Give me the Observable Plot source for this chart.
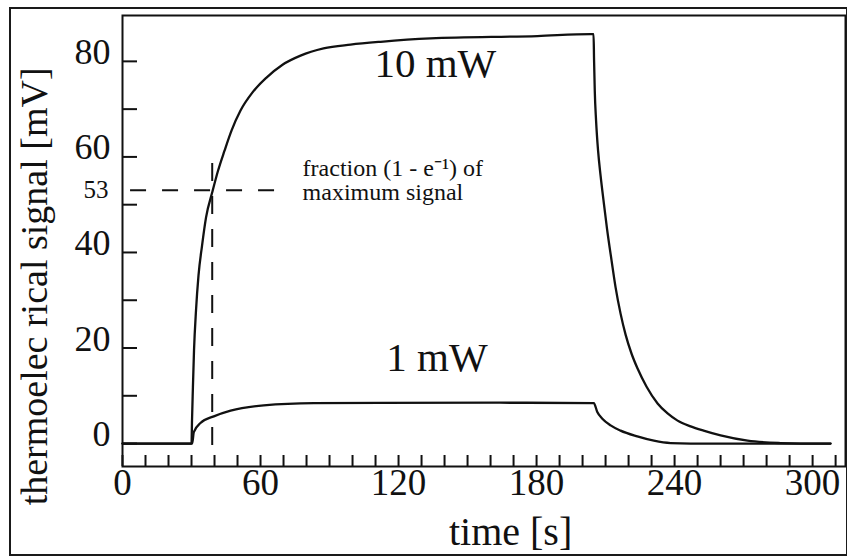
<!DOCTYPE html>
<html><head><meta charset="utf-8">
<script src="https://cdn.jsdelivr.net/npm/d3@7"></script>
<script src="https://cdn.jsdelivr.net/npm/@observablehq/plot@0.6"></script>
<style>
body{margin:0;background:#fff;}
#wrap{position:relative;width:847px;height:556px;overflow:hidden;background:#fff;}
#chart{position:absolute;left:0;top:0;}
#border{position:absolute;left:9px;top:7px;width:835px;height:545px;border:2px solid #1a1a1a;pointer-events:none;}
</style></head><body>
<div id="wrap"><div id="chart"></div><div id="border"></div></div>
<script>
// 10 mW series (time [s], signal [mV])
const time10   = [0, 30.0, 30.22, 30.57, 31.09, 31.96, 33.04, 34.57, 36.30, 39.13, 41.52, 44.35, 47.39, 51.30, 56.52, 62.61, 69.57, 77.39, 87.39, 99.13, 112.2, 133.9, 180.4, 203.5, 204.78,
                  205.0, 205.3, 205.87, 206.74, 207.83, 209.13, 210.65, 212.61, 214.35, 216.52, 218.70, 221.30, 223.91, 227.83, 232.61, 236.96, 241.30, 246.96, 252.61, 260.0, 271.74, 286.09, 294.78, 307.8];
const signal10 = [0, 0,    4.83,  11.1,  19.5,  27.9,  35.2,  41.4,  47.3,  52.8,  57.1,  61.3,  65.5,  69.7,  73.5,  76.6,  79.3,  81.2,  82.7,  83.5,  84.1,  84.8,  85.3,  85.7,  85.7,
                  80.2,  73.9,  67.6,   61.3,   56.1,   50.8,   44.9,   38.3,   32.7,   27.2,   22.8,   18.8,   15.7,   11.9,   8.4,    6.3,    4.8,    3.6,    2.7,    1.7,   0.6,    0.1,    0,      0];
// 1 mW series
const time1    = [0, 30.3, 31.0, 33.9, 39.7, 47.0, 61.4, 83.2, 112.2, 164.0, 204.9, 206.4, 208.6, 212.2, 216.5, 223.8, 231.0, 238.3, 247.0, 307.8];
const signal1  = [0, 0,    2.4,  4.3,  5.7,  6.9,  8.0,  8.45, 8.5,   8.55,  8.45,  6.6,   5.2,   3.8,   2.7,   1.5,   0.6,   0.1,   0,     0];

const xTickMarks  = [0,10,20,30,40,50,60,70,80,90,100,110,120,130,140,150,160,170,180,190,200,210,220,230,240,250,260,270,280,290,300,310];
const xTickLabels = [0,60,120,180,240,300];
const yTickMarks  = [0,10,20,30,40,50,60,70,80];
const yTickLabels = [0,20,40,60,80];
const markedLevel = [53];   // (1 - e^-1) of maximum
const markedTime  = [39];   // time constant crossing
const hDash = {x1: 3.5, x2: 72};
const vDash = {y1: 58.6, y2: -1.5};

const curveLabels = [
  {t: 136, v: 79.4, text: "10 mW"},
  {t: 136.7, v: 18, text: "1 mW"}
];
const noteText = {t: 78.3, v: 55.0, text: "fraction (1 - e\u207B\u00B9) of\nmaximum signal"};
const xTitle = {t: 168.7, text: "time [s]"};
const yTitle = {t: -38.3, v: 32.9, text: "thermoelec rical signal [mV]"};

const s10 = time10.map((t, i) => ({t, v: signal10[i]}));
const s1 = time1.map((t, i) => ({t, v: signal1[i]}));

const ink = "#111";
const chart = Plot.plot({
  width: 847, height: 556,
  marginLeft: 122, marginRight: 2, marginTop: 15, marginBottom: 90,
  style: {fontFamily: "'Liberation Serif', 'Times New Roman', serif", color: ink, background: "transparent", overflow: "visible"},
  x: {domain: [0, 314.3]},
  y: {domain: [-4.8, 89.6]},
  marks: [
    Plot.frame({stroke: ink, strokeWidth: 2}),
    Plot.axisY(yTickMarks, {tickSize: -15, text: null, strokeWidth: 2, label: null}),
    Plot.axisY(yTickLabels, {tickSize: 0, tickPadding: 12, fontSize: 36, dy: -9, label: null}),
    Plot.axisY(markedLevel, {tickSize: 0, tickPadding: 14, fontSize: 25, label: null}),
    Plot.axisX(xTickMarks, {tickSize: -11, text: null, strokeWidth: 2, label: null}),
    Plot.axisX(xTickLabels, {tickSize: 0, tickPadding: 2, fontSize: 37, label: null}),
    Plot.ruleY(markedLevel, {x1: hDash.x1, x2: hDash.x2, stroke: ink, strokeWidth: 2, strokeDasharray: "16,16"}),
    Plot.ruleX(markedTime, {y1: vDash.y1, y2: vDash.y2, stroke: ink, strokeWidth: 2, strokeDasharray: "18,15"}),
    Plot.line(s10, {x: "t", y: "v", curve: "monotone-x", stroke: ink, strokeWidth: 2.3}),
    Plot.line(s1, {x: "t", y: "v", curve: "monotone-x", stroke: ink, strokeWidth: 2.3}),
    Plot.text(curveLabels, {x: "t", y: "v", text: "text", fontSize: 41, fill: ink}),
    Plot.text([noteText], {x: "t", y: "v", text: "text", fontSize: 24, textAnchor: "start", lineAnchor: "middle", lineHeight: 1.0, fill: ink}),
    Plot.text([xTitle], {x: "t", text: "text", frameAnchor: "bottom", lineAnchor: "middle", dy: 66, fontSize: 40, fill: ink}),
    Plot.text([yTitle], {x: "t", y: "v", text: "text", rotate: -90, lineAnchor: "middle", fontSize: 38, fill: ink})
  ]
});
document.getElementById("chart").appendChild(chart);
</script>
</body></html>
